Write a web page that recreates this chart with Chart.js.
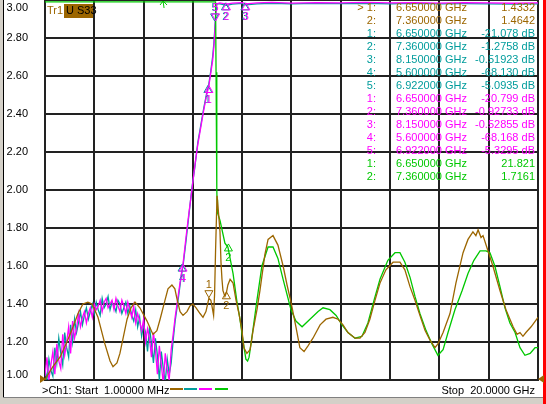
<!DOCTYPE html>
<html><head><meta charset="utf-8">
<script src="https://cdn.jsdelivr.net/npm/chart.js@4.4.1/dist/chart.umd.min.js"></script>
<style>html,body{margin:0;padding:0;background:#fff;overflow:hidden}canvas{display:block}</style>
</head><body>
<canvas id="c" width="546" height="404" style="width:546px;height:404px"></canvas>
<script>
// ---------- data ----------
const yTickValues = [3.0, 2.8, 2.6, 2.4, 2.2, 2.0, 1.8, 1.6, 1.4, 1.2, 1.0];
const yTickLabels = ['3.00','2.80','2.60','2.40','2.20','2.00','1.80','1.60','1.40','1.20','1.00'];
const xGridValues = [0.001, 2, 4, 6, 8, 10, 12, 14, 16, 18, 20]; // GHz, 10 divisions

const brownFreq = [0.001,0.08,0.32,0.61,0.89,1.14,1.34,1.54,1.74,1.91,
 2.15,2.43,2.64,2.76,2.92,3.04,3.33,3.49,3.65,3.85,
 4.14,4.38,4.54,4.67,4.87,4.99,5.15,5.27,5.35,5.48,
 5.60,5.76,5.88,6.00,6.13,6.29,6.41,6.53,6.65,6.73,
 6.80,6.84,6.88,6.92,6.98,7.04,7.10,7.14,7.18,7.22,
 7.30,7.36,7.42,7.51,7.63,7.75,7.87,7.99,8.07,8.19,
 8.32,8.44,8.60,8.72,8.92,9.05,9.25,9.45,9.66,9.82,
 9.98,10.18,10.34,10.51,10.67,10.87,11.16,11.40,11.68,11.89,
 12.09,12.29,12.58,12.78,12.98,13.18,13.39,13.59,13.83,14.12,
 14.40,14.60,14.81,15.01,15.21,15.42,15.62,15.82,15.94,16.15,
 16.43,16.67,16.96,17.16,17.36,17.48,17.57,17.69,17.77,17.97,
 18.17,18.46,18.70,18.99,19.15,19.27,19.39,19.51,19.72,20.00];
const brownVals = [1.00,1.02,1.07,1.12,1.20,1.28,1.35,1.40,1.41,1.40,
 1.33,1.19,1.10,1.07,1.09,1.14,1.32,1.38,1.41,1.38,
 1.31,1.24,1.26,1.32,1.42,1.48,1.50,1.48,1.43,1.36,
 1.34,1.36,1.39,1.40,1.38,1.35,1.33,1.36,1.43,1.42,
 1.37,1.34,1.45,1.68,1.97,1.88,1.78,1.62,1.53,1.47,
 1.44,1.46,1.50,1.53,1.51,1.42,1.35,1.26,1.17,1.14,
 1.16,1.26,1.37,1.47,1.66,1.74,1.76,1.71,1.60,1.50,
 1.41,1.28,1.17,1.15,1.18,1.22,1.29,1.32,1.33,1.32,
 1.29,1.25,1.22,1.22,1.25,1.32,1.42,1.51,1.58,1.62,
 1.62,1.58,1.49,1.42,1.34,1.26,1.21,1.17,1.19,1.25,
 1.35,1.51,1.67,1.74,1.78,1.76,1.79,1.75,1.76,1.68,
 1.60,1.47,1.37,1.28,1.24,1.25,1.23,1.25,1.28,1.33];

const greenFreq = [0.001,6.92,6.94,6.97,6.98,7.00,7.10,7.30,7.42,7.63,
 7.79,7.91,8.03,8.15,8.22,8.28,8.40,8.60,8.80,9.05,
 9.25,9.45,9.66,9.98,10.18,10.43,10.75,11.08,11.28,11.56,
 11.81,12.05,12.29,12.58,12.86,13.10,13.35,13.59,13.91,14.20,
 14.40,14.60,14.81,15.01,15.21,15.46,15.70,15.94,16.15,16.35,
 16.63,16.92,17.16,17.40,17.65,17.89,18.05,18.25,18.46,18.66,
 18.86,19.07,19.27,19.47,19.68,19.88,20.00];
const greenVals = [2.99,2.99,2.62,2.00,1.95,1.88,1.84,1.72,1.70,1.56,
 1.41,1.32,1.21,1.11,1.10,1.12,1.23,1.42,1.60,1.70,
 1.70,1.64,1.53,1.37,1.31,1.28,1.32,1.36,1.38,1.37,
 1.34,1.29,1.25,1.22,1.23,1.30,1.42,1.53,1.63,1.67,
 1.67,1.62,1.54,1.44,1.35,1.26,1.19,1.13,1.16,1.25,
 1.37,1.47,1.56,1.63,1.68,1.68,1.67,1.60,1.49,1.38,
 1.30,1.25,1.17,1.13,1.14,1.17,1.17];

const mtFreq = [0.00,0.08,0.16,0.24,0.32,0.40,0.48,0.56,0.64,0.72,
 0.80,0.88,0.96,1.04,1.12,1.20,1.28,1.36,1.44,1.52,
 1.60,1.68,1.76,1.84,1.92,2.00,2.08,2.16,2.24,2.32,
 2.40,2.48,2.56,2.64,2.72,2.80,2.88,2.96,3.04,3.12,
 3.20,3.28,3.36,3.44,3.52,3.60,3.68,3.76,3.84,3.92,
 4.00,4.08,4.16,4.24,4.32,4.40,4.48,4.56,4.64,4.72,
 4.80,4.88,4.96,5.04,5.12,5.20,
 5.28,5.40,5.52,5.60,5.72,5.84,5.96,6.08,6.20,6.32,
 6.44,6.56,6.65,6.73,6.80,6.85,6.89,6.93,6.97,
 7.10,7.36,7.60,8.00,8.15,8.60,9.20,10.0,11.0,12.0,
 13.0,14.0,15.0,16.0,17.0,18.0,19.0,20.0];
const magentaVals = [1.02,1.12,1.00,1.08,1.15,1.03,1.19,1.10,1.06,1.24,
 1.13,1.20,1.28,1.14,1.31,1.22,1.27,1.35,1.28,1.33,
 1.36,1.30,1.35,1.38,1.33,1.40,1.37,1.39,1.42,1.36,
 1.41,1.43,1.38,1.40,1.42,1.37,1.43,1.39,1.36,1.42,
 1.39,1.35,1.41,1.37,1.33,1.39,1.30,1.35,1.31,1.26,
 1.32,1.20,1.27,1.22,1.12,1.25,1.16,1.03,1.18,1.08,
 0.98,1.14,1.05,1.00,1.16,1.24,
 1.33,1.44,1.55,1.61,1.75,1.88,2.00,2.13,2.24,2.33,
 2.42,2.50,2.55,2.62,2.68,2.75,2.83,2.93,2.98,
 2.985,2.978,2.984,2.986,2.980,2.985,2.987,2.984,2.986,2.985,
 2.987,2.985,2.986,2.984,2.986,2.985,2.983,2.985];
const tealVals = [1.06,1.00,1.11,1.05,1.02,1.17,1.09,1.22,1.14,1.08,
 1.25,1.17,1.12,1.29,1.20,1.32,1.25,1.30,1.36,1.29,
 1.34,1.38,1.32,1.36,1.40,1.35,1.41,1.37,1.34,1.43,
 1.38,1.40,1.44,1.37,1.41,1.39,1.36,1.42,1.40,1.35,
 1.38,1.41,1.35,1.39,1.34,1.31,1.37,1.28,1.33,1.23,
 1.29,1.25,1.15,1.28,1.19,1.09,1.22,1.13,1.00,1.15,
 1.06,0.99,1.11,1.03,1.09,1.21,
 1.31,1.42,1.54,1.60,1.73,1.87,2.01,2.12,2.25,2.34,
 2.43,2.51,2.56,2.63,2.70,2.77,2.85,2.94,2.98,
 2.980,2.972,2.978,2.982,2.975,2.980,2.983,2.980,2.982,2.981,
 2.983,2.980,2.982,2.980,2.981,2.980,2.978,2.980];

// markers
const brownMkFreq = [6.65, 7.36];
const brownMkVal = [1.4332, 1.4642];
const brownMkLabel = ['1', '2'];
const brownMkDir = ['down', 'up'];
const greenMkFreq = [7.36];
const greenMkVal = [1.7161];
const greenMkLabel = ['2'];
const greenMkDir = ['up'];
const greenOffMkFreq = 4.79; // out-of-range marker arrow at top
const mtMkFreq = [6.65, 7.36, 8.15, 5.60, 6.922];
const mtMkVal = [2.55, 2.985, 2.985, 1.61, 2.89];
const mtMkLabel = ['1', '2', '3', '4', '5'];
const mtMkDir = ['up', 'up', 'up', 'up', 'down'];

// marker readout table
const tblLabel = ['> 1:','2:','1:','2:','3:','4:','5:','1:','2:','3:','4:','5:','1:','2:'];
const tblFreq = ['6.650000 GHz','7.360000 GHz','6.650000 GHz','7.360000 GHz','8.150000 GHz','5.600000 GHz','6.922000 GHz',
 '6.650000 GHz','7.360000 GHz','8.150000 GHz','5.600000 GHz','6.922000 GHz','6.650000 GHz','7.360000 GHz'];
const tblValue = ['1.4332','1.4642','-21.078 dB','-1.2758 dB','-0.51923 dB','-68.130 dB','-5.0935 dB',
 '-20.799 dB','-0.92733 dB','-0.52855 dB','-68.168 dB','-5.3295 dB','21.821','1.7161'];
const tblSeries = ['brown','brown','teal','teal','teal','teal','teal','magenta','magenta','magenta','magenta','magenta','green','green'];

// ---------- styling ----------
const COL = {brown:'#9c6600', teal:'#009c9c', magenta:'#ff00ff', green:'#00c800'};
const GRID = '#222222';
const FONT = '"Liberation Sans", Arial, sans-serif';

function pts(fx, vy){ return fx.map((f,i)=>({x:f, y:vy[i]})); }
function ds(fx, vy, color){
  return {data: pts(fx, vy), borderColor: color, backgroundColor: color, borderWidth: 1.3,
          pointRadius: 0, tension: 0, fill: false};
}

function drawMarker(ctx, px, py, label, dir, color){
  ctx.strokeStyle = color; ctx.fillStyle = color; ctx.lineWidth = 1;
  ctx.textAlign = 'center';
  ctx.beginPath();
  if (dir === 'up'){
    ctx.moveTo(px, py); ctx.lineTo(px-4, py+7); ctx.lineTo(px+4, py+7); ctx.closePath(); ctx.stroke();
    ctx.textBaseline = 'top'; ctx.fillText(label, px, py+9);
  } else {
    ctx.moveTo(px, py); ctx.lineTo(px-4, py-7); ctx.lineTo(px+4, py-7); ctx.closePath(); ctx.stroke();
    ctx.textBaseline = 'bottom'; ctx.fillText(label, px, py-7);
  }
}

const vnaPlugin = {
  id: 'vna',
  beforeDraw(chart){
    const ctx = chart.ctx;
    ctx.save(); ctx.fillStyle = '#ffffff'; ctx.fillRect(0,0,chart.width,chart.height); ctx.restore();
  },
  afterDraw(chart){
    const ctx = chart.ctx, xs = chart.scales.x, ys = chart.scales.y;
    ctx.save();
    // window frame
    ctx.fillStyle = '#d4d0c8'; ctx.fillRect(0,0,3,404); ctx.fillRect(0,397,546,7);
    ctx.fillStyle = '#000'; ctx.fillRect(3,0,1,397);
    ctx.fillStyle = '#808080'; ctx.fillRect(3,397,540,1);
    ctx.fillStyle = '#ff0000'; ctx.fillRect(543,0,3,404);

    // y labels
    ctx.font = '11px ' + FONT; ctx.fillStyle = '#000'; ctx.textAlign = 'right'; ctx.textBaseline = 'middle';
    yTickValues.forEach((v,i)=>{
      let py = ys.getPixelForValue(v); py = Math.min(Math.max(py, 8), 375);
      ctx.fillText(yTickLabels[i], 28, py);
    });

    // header
    ctx.textAlign = 'left'; ctx.fillStyle = COL.brown; ctx.fillText('Tr1', 47, 11);
    ctx.fillRect(64, 4, 29, 14);
    ctx.fillStyle = '#000'; ctx.fillText('U S33', 66, 11);

    // table
    tblLabel.forEach((t,i)=>{
      const y = 8 + 13*i;
      ctx.fillStyle = COL[tblSeries[i]];
      ctx.textAlign = 'right'; ctx.fillText(t, 376, y);
      ctx.textAlign = 'left'; ctx.fillText(tblFreq[i], 396, y);
      ctx.textAlign = 'right'; ctx.fillText(tblValue[i], 535, y);
    });

    // bottom annotation
    ctx.fillStyle = '#000'; ctx.textAlign = 'left';
    ctx.fillText('>Ch1: Start  1.00000 MHz', 42, 391);
    ctx.textAlign = 'right'; ctx.fillText('Stop  20.0000 GHz', 535, 391);
    const dashes = ['brown','teal','magenta','green'];
    const dx = [170,184,199,215];
    ctx.lineWidth = 2;
    dashes.forEach((s,i)=>{ ctx.strokeStyle = COL[s]; ctx.beginPath(); ctx.moveTo(dx[i],389); ctx.lineTo(dx[i]+13,389); ctx.stroke(); });

    // reference-level triangles
    const yr = ys.getPixelForValue(1.0) - 1;
    ctx.fillStyle = COL.brown;
    ctx.beginPath(); ctx.moveTo(40,yr-4); ctx.lineTo(46,yr); ctx.lineTo(40,yr+4); ctx.closePath(); ctx.fill();
    ctx.beginPath(); ctx.moveTo(544,yr-4); ctx.lineTo(538,yr); ctx.lineTo(544,yr+4); ctx.closePath(); ctx.fill();

    // markers
    ctx.font = '11px ' + FONT;
    mtMkFreq.forEach((f,i)=>drawMarker(ctx, xs.getPixelForValue(f)-1, ys.getPixelForValue(mtMkVal[i]), mtMkLabel[i], mtMkDir[i], COL.teal));
    mtMkFreq.forEach((f,i)=>drawMarker(ctx, xs.getPixelForValue(f), ys.getPixelForValue(mtMkVal[i]), mtMkLabel[i], mtMkDir[i], COL.magenta));
    brownMkFreq.forEach((f,i)=>drawMarker(ctx, xs.getPixelForValue(f), ys.getPixelForValue(brownMkVal[i]), brownMkLabel[i], brownMkDir[i], COL.brown));
    greenMkFreq.forEach((f,i)=>drawMarker(ctx, xs.getPixelForValue(f)+2, ys.getPixelForValue(greenMkVal[i]), greenMkLabel[i], greenMkDir[i], COL.green));
    // out-of-range arrow
    const ax = xs.getPixelForValue(greenOffMkFreq);
    ctx.strokeStyle = COL.green; ctx.lineWidth = 1;
    ctx.beginPath(); ctx.moveTo(ax, 1); ctx.lineTo(ax+1, 8);
    ctx.moveTo(ax, 1); ctx.lineTo(ax-3, 5); ctx.moveTo(ax, 1); ctx.lineTo(ax+4, 5); ctx.stroke();
    ctx.restore();
  }
};

new Chart(document.getElementById('c'), {
  type: 'line',
  data: { datasets: [
    ds(brownFreq, brownVals, COL.brown),
    ds(greenFreq, greenVals, COL.green),
    ds(mtFreq, magentaVals, COL.magenta),
    ds(mtFreq, tealVals, COL.teal)
  ]},
  options: {
    responsive: false, animation: false, devicePixelRatio: 1,
    layout: { padding: { left: 45, right: 8, top: 0, bottom: 24 }, autoPadding: false },
    plugins: { legend: { display: false }, tooltip: { enabled: false }, title: { display: false } },
    scales: {
      x: { type: 'linear', min: 0.001, max: 20,
           afterBuildTicks: s => { s.ticks = xGridValues.map(v => ({ value: v })); },
           ticks: { display: false }, grid: { color: GRID, lineWidth: 2, drawTicks: false },
           border: { color: GRID, width: 2 } },
      y: { type: 'linear', min: 1, max: 3,
           afterBuildTicks: s => { s.ticks = yTickValues.map(v => ({ value: v })); },
           ticks: { display: false }, grid: { color: GRID, lineWidth: 2, drawTicks: false },
           border: { color: GRID, width: 2 } }
    }
  },
  plugins: [vnaPlugin]
});
</script>
</body></html>
